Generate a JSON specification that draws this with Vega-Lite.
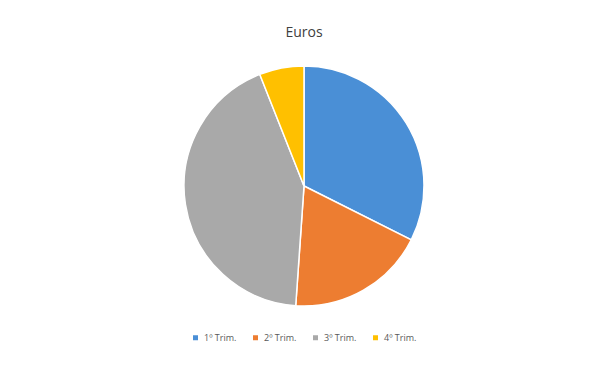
{
  "$schema": "https://vega.github.io/schema/vega-lite/v6.json",
  "autosize": "none",
  "width": 588,
  "height": 276,
  "padding": {"left": 10, "right": 0, "top": 48, "bottom": 52},
  "background": "white",
  "config": {"view": {"stroke": null}, "legend": {"layout": {"bottom": {"anchor": "middle"}}}},
  "title": {"text": "Euros", "fontSize": 14, "font": "Open Sans", "fontWeight": "normal", "color": "#404040", "offset": 8},
  "data": {"values": [
    {"trim": "1º Trim.", "euros": 32.4, "ord": 1},
    {"trim": "2º Trim.", "euros": 18.7, "ord": 2},
    {"trim": "3º Trim.", "euros": 42.9, "ord": 3},
    {"trim": "4º Trim.", "euros": 6.0, "ord": 4}
  ]},
  "mark": {"type": "arc", "outerRadius": 120, "stroke": "white", "strokeWidth": 1.5},
  "encoding": {
    "theta": {"field": "euros", "type": "quantitative", "stack": true},
    "order": {"field": "ord", "type": "quantitative"},
    "color": {
      "field": "trim", "type": "nominal",
      "scale": {"domain": ["1º Trim.", "2º Trim.", "3º Trim.", "4º Trim."], "range": ["#4a8fd6", "#ed7d31", "#a9a9a9", "#ffc000"]},
      "legend": {"orient": "bottom", "direction": "horizontal", "title": null, "symbolType": "square", "symbolSize": 25, "labelFontSize": 9, "labelFont": "Open Sans", "labelColor": "#595959", "columnPadding": 14, "offset": 9, "symbolStrokeWidth": 0}
    }
  }
}
